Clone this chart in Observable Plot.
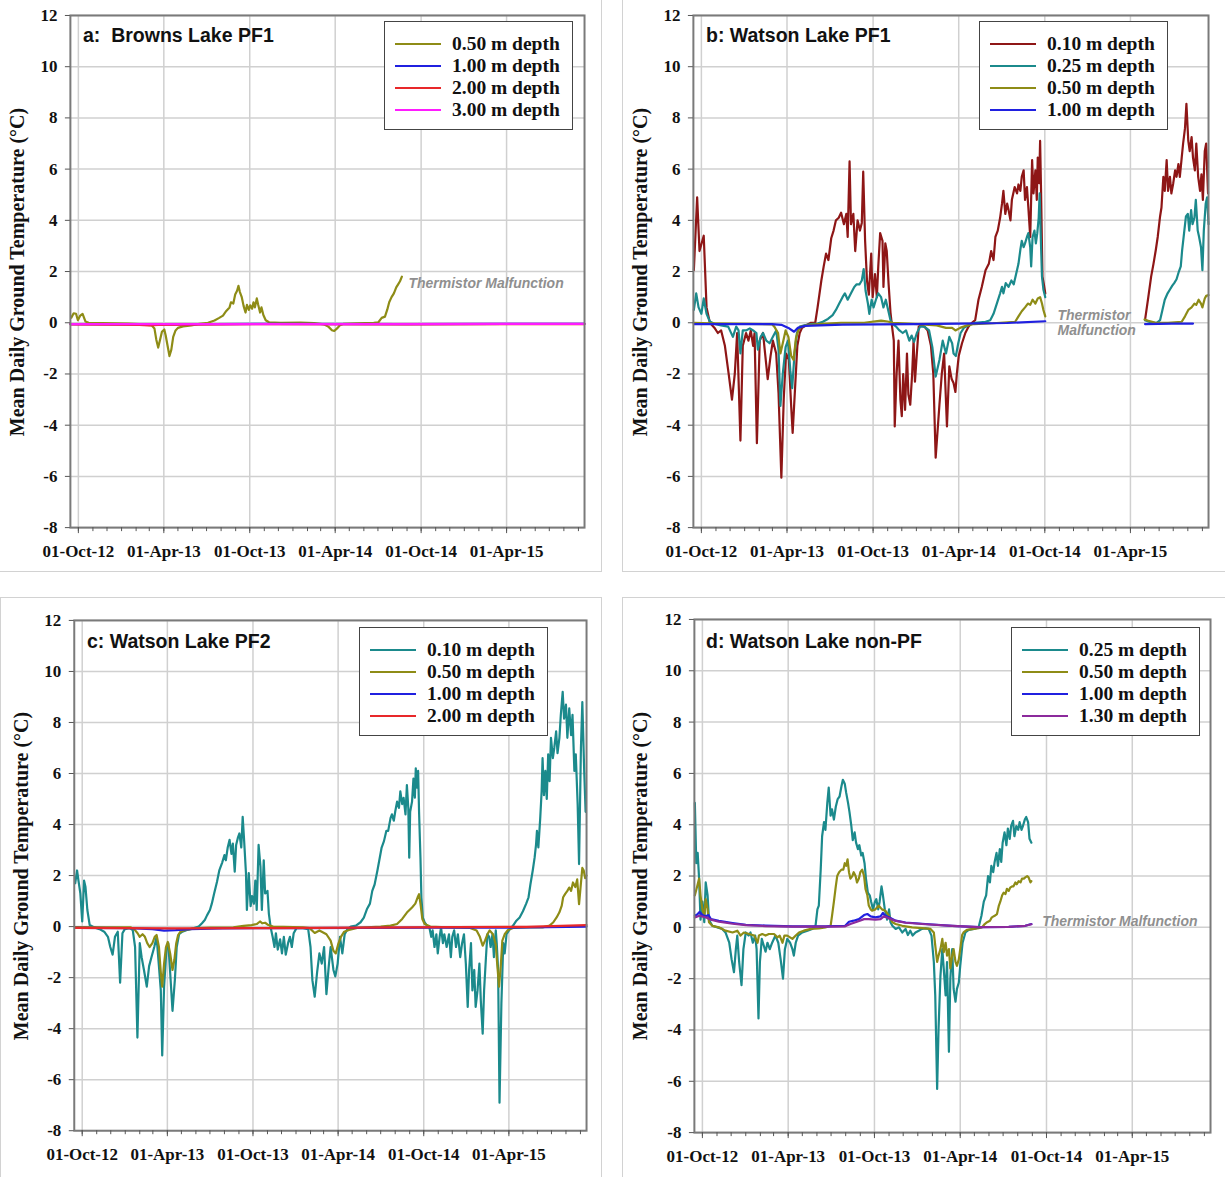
<!DOCTYPE html>
<html>
<head>
<meta charset="utf-8">
<script src="https://cdn.jsdelivr.net/npm/d3@7"></script>
<script src="https://cdn.jsdelivr.net/npm/@observablehq/plot@0.6"></script>
<style>
  body { margin: 0; background: #fff; }
  #root { position: relative; width: 1225px; height: 1177px; overflow: hidden; background: #fff; }
  .panel { position: absolute; box-sizing: border-box; border: 0 solid #d2d2d2; }
  .panel svg { position: absolute; left: 0; top: 0; }
  .ptitle { position: absolute; font-family: "Liberation Sans", Arial, sans-serif; font-weight: bold; font-size: 19.5px; line-height: 20px; white-space: pre; color: #111; }
  .ytitle { position: absolute; font-family: "Liberation Serif", "Times New Roman", serif; font-weight: bold; font-size: 20px; white-space: nowrap; color: #111; transform: translate(-50%, -50%) rotate(-90deg); line-height: 20px; }
  .legend { position: absolute; background: #fff; border: 1.5px solid #444; box-sizing: border-box; }
  .legend .sw { position: absolute; height: 2px; }
  .legend .lb { position: absolute; font-family: "Liberation Serif", "Times New Roman", serif; font-weight: bold; font-size: 19.5px; line-height: 20px; white-space: nowrap; color: #111; transform: translateY(-50%); }
</style>
</head>
<body>
<div id="root"></div>
<script>
// ---------- axis / scale values ----------
const DAY_ZERO = "2012-10-01";          // series x values are days after this date
const xDomain = ["2012-09-14", "2015-09-14"];
const yDomain = [-8, 12];
const yTicks = [-8, -6, -4, -2, 0, 2, 4, 6, 8, 10, 12];
const xTickDates = ["2012-10-01", "2013-04-01", "2013-10-01", "2014-04-01", "2014-10-01", "2015-04-01"];
const xTickLabels = ["01-Oct-12", "01-Apr-13", "01-Oct-13", "01-Apr-14", "01-Oct-14", "01-Apr-15"];
const yTitle = "Mean Daily Ground Temperature (\u00B0C)";
const panelTitles = ["a:  Browns Lake PF1", "b: Watson Lake PF1", "c: Watson Lake PF2", "d: Watson Lake non-PF"];
const annotationText = "Thermistor Malfunction";

// ---------- series values: [day after DAY_ZERO, mean daily temperature] ----------
// a: Browns Lake PF1
const a050 = [[-15,0.2],[-10,0.37],[-5,0.35],[-1,0.1],[4,0.28],[9,0.35],[15,0.05],[22,0],[50,-0.01],[106,-0.03],[142,-0.06],[156,-0.1],[162,-0.22],[166,-0.66],[170,-0.97],[174,-0.66],[178,-0.35],[183,-0.26],[186,-0.5],[190,-0.9],[194,-1.3],[198,-1.05],[202,-0.55],[207,-0.3],[212,-0.2],[223,-0.14],[241,-0.1],[258,-0.04],[276,0],[290,0.09],[300,0.19],[308,0.28],[315,0.46],[322,0.6],[325,0.8],[330,0.75],[334,1.1],[338,1.25],[341,1.44],[344,1.2],[348,1.0],[352,0.65],[356,0.4],[359,0.7],[363,0.5],[366,0.68],[370,0.55],[373,0.8],[376,0.6],[380,0.95],[383,0.7],[387,0.4],[390,0.6],[394,0.3],[399,0.1],[406,0.02],[431,0],[473,0.01],[502,-0.01],[523,-0.06],[533,-0.16],[540,-0.29],[545,-0.32],[551,-0.22],[557,-0.1],[565,-0.04],[593,-0.02],[629,0],[639,0.02],[646,0.19],[653,0.24],[658,0.52],[662,0.8],[667,1.0],[672,1.15],[677,1.38],[681,1.5],[685,1.62],[689,1.8]];
const a100 = [[-17,-0.05],[200,-0.06],[400,-0.04],[700,-0.05],[1078,-0.04]];
const a200 = [[-17,-0.06],[130,-0.08],[150,-0.1],[170,-0.08],[400,-0.05],[700,-0.06],[1078,-0.05]];
const a300 = [[-17,-0.05],[300,-0.05],[600,-0.05],[900,-0.04],[1078,-0.04]];

// b: Watson Lake PF1 (null value = data gap)
const b010 = [[-16,2.05],[-9,4.9],[-4,2.8],[5,3.4],[11,0.6],[18,0],[28,-0.2],[35,-0.4],[42,-0.3],[50,-0.9],[58,-2.0],[65,-3.0],[71,-2.0],[76,-0.4],[83,-4.6],[88,-0.9],[95,-0.4],[100,-0.7],[105,-0.3],[110,-0.9],[113,-0.4],[118,-4.7],[124,-0.7],[131,-0.4],[136,-1.3],[141,-2.2],[147,-1.3],[152,-0.7],[159,-1.2],[164,-2.75],[170,-6.05],[175,-3.0],[180,-1.2],[186,-1.45],[191,-3.3],[194,-4.3],[199,-2.6],[204,-0.9],[209,-0.4],[214,-0.2],[223,-0.1],[233,0],[242,0],[247,0.6],[255,1.65],[260,2.2],[265,2.7],[270,2.45],[276,3.3],[281,3.6],[286,4.0],[292,4.1],[297,4.3],[303,3.85],[308,4.25],[311,3.35],[315,6.3],[318,3.85],[323,4.25],[327,2.8],[332,4.0],[337,3.6],[341,3.9],[344,5.9],[348,3.2],[352,1.65],[356,1.1],[361,2.7],[364,1.0],[369,1.9],[373,1.0],[376,2.2],[380,3.5],[385,3.2],[387,1.4],[391,3.1],[394,2.8],[398,1.5],[402,0.4],[405,-0.1],[409,-0.7],[411,-4.05],[415,-2.0],[419,-0.7],[423,-3.0],[426,-3.65],[429,-2.0],[433,-3.4],[437,-1.2],[440,-2.8],[444,-3.2],[448,-2.0],[451,-0.7],[454,-2.3],[458,-1.2],[462,-0.15],[467,-0.1],[474,-0.15],[481,-0.3],[488,-0.9],[493,-2.0],[498,-5.27],[506,-3.2],[511,-2.0],[516,-1.2],[522,-4.05],[527,-1.7],[532,-2.2],[536,-2.35],[540,-2.7],[543,-2.0],[547,-1.3],[554,-0.8],[561,-0.4],[568,-0.15],[575,0],[582,0.1],[589,0.9],[596,1.4],[604,2.05],[611,2.3],[616,2.8],[621,2.45],[625,3.35],[630,3.6],[635,4.1],[639,4.65],[642,5.15],[646,4.25],[650,4.65],[653,4.4],[657,4.0],[660,4.8],[666,5.3],[671,5.05],[674,5.4],[678,5.15],[681,5.7],[685,5.95],[688,4.8],[692,5.3],[695,4.5],[699,3.35],[703,6.35],[706,5.05],[710,5.95],[713,4.8],[715,6.45],[718,5.45],[720,7.1],[722,5.15],[725,1.8],[728,1.5],[731,1.15],[830,null],[943,0.1],[950,1.0],[956,1.8],[961,2.3],[966,2.85],[970,3.35],[975,4.15],[978,4.5],[982,5.7],[985,5.15],[989,6.35],[992,5.15],[996,5.7],[999,5.05],[1003,5.45],[1007,5.95],[1010,5.7],[1014,6.2],[1017,5.7],[1021,6.45],[1024,7.0],[1028,7.6],[1031,8.55],[1035,7.1],[1038,6.7],[1042,7.25],[1045,6.45],[1049,5.95],[1052,7.0],[1056,5.7],[1060,5.15],[1063,5.8],[1066,4.8],[1070,6.7],[1073,7.0],[1077,5.05]];
const b025 = [[-16,0.5],[-11,1.15],[-6,0.6],[0,0.35],[5,0.95],[11,0.35],[18,0.05],[28,-0.05],[42,-0.1],[57,-0.15],[67,-0.55],[74,-0.15],[79,-0.3],[83,-1.2],[88,-0.3],[95,-0.3],[103,-0.22],[110,-0.3],[117,-0.4],[120,-1.05],[126,-0.55],[131,-0.4],[138,-0.7],[145,-0.8],[152,-0.55],[159,-0.3],[164,-1.05],[168,-3.25],[173,-2.0],[179,-0.95],[184,-0.7],[189,-1.85],[193,-2.55],[198,-1.2],[203,-0.4],[209,-0.15],[219,-0.1],[233,-0.05],[247,-0.03],[258,0.04],[269,0.15],[279,0.3],[286,0.5],[293,0.75],[300,1.0],[305,1.15],[311,0.9],[318,1.15],[325,1.4],[330,1.5],[336,1.5],[341,1.65],[345,2.1],[349,1.25],[354,0.75],[357,0.35],[362,0.9],[366,0.6],[371,0.9],[376,1.15],[382,1.0],[387,0.6],[392,0.9],[397,0.5],[402,0.1],[407,-0.05],[414,-0.15],[421,-0.3],[428,-0.4],[435,-0.3],[442,-0.7],[447,-0.5],[452,-0.75],[458,-0.4],[465,-0.15],[474,-0.15],[484,-0.3],[491,-0.95],[498,-2.1],[506,-1.45],[513,-0.7],[520,-1.2],[527,-0.55],[533,-0.8],[536,-1.2],[541,-1.3],[546,-0.8],[551,-0.4],[558,-0.2],[568,-0.1],[582,0],[604,0.04],[614,0.1],[621,0.35],[628,0.75],[635,1.15],[639,1.4],[642,1.15],[647,1.55],[653,1.4],[659,1.65],[664,1.5],[669,1.9],[674,2.3],[678,2.85],[681,3.2],[685,2.95],[688,3.1],[692,3.35],[695,3.5],[699,2.95],[701,2.2],[704,3.35],[708,3.6],[711,3.1],[714,3.5],[717,4.1],[719,5.05],[721,3.6],[724,1.8],[727,1.3],[731,1.0],[830,null],[943,0.1],[950,0.05],[957,0],[968,0],[975,0.1],[980,0.5],[985,0.9],[991,1.15],[996,1.3],[1001,1.45],[1005,1.55],[1010,1.7],[1015,2.0],[1019,2.2],[1022,2.85],[1026,3.5],[1030,4.15],[1034,4.25],[1037,3.6],[1041,4.4],[1044,3.85],[1048,4.1],[1051,4.8],[1055,3.6],[1058,3.35],[1062,2.95],[1065,2.05],[1068,3.6],[1072,4.65],[1075,4.9],[1078,3.85]];
const b050 = [[-16,0.0],[20,-0.02],[100,-0.04],[150,-0.06],[155,-0.15],[163,-0.4],[168,-1.2],[173,-0.8],[179,-0.3],[185,-0.55],[191,-1.3],[196,-1.45],[201,-0.6],[206,-0.3],[212,-0.15],[223,-0.1],[247,-0.05],[297,0],[346,0],[382,0.08],[396,0.05],[407,0],[460,-0.05],[500,-0.1],[520,-0.2],[533,-0.2],[540,-0.3],[550,-0.2],[565,-0.1],[580,-0.05],[620,-0.02],[667,0.04],[674,0.25],[681,0.45],[688,0.6],[694,0.75],[699,0.7],[704,0.9],[710,0.75],[715,0.95],[720,1.0],[724,0.75],[727,0.5],[731,0.25],[830,null],[942,0.13],[950,0.08],[964,0.01],[992,0],[1021,0.04],[1028,0.25],[1035,0.5],[1042,0.6],[1048,0.75],[1052,0.7],[1057,0.9],[1062,0.75],[1065,0.6],[1070,0.95],[1073,1.05],[1078,1.08]];
const b100 = [[-16,-0.05],[150,-0.05],[170,-0.08],[185,-0.2],[197,-0.35],[205,-0.2],[220,-0.12],[300,-0.07],[450,-0.05],[550,-0.03],[650,-0.01],[731,0.06],[830,null],[943,-0.05],[1000,-0.03],[1045,-0.03]];

// c: Watson Lake PF2
const c010 = [[-15,1.7],[-11,2.2],[-8,1.8],[-4,1.3],[0,0.2],[4,1.8],[7,1.55],[11,0.65],[16,0.06],[26,-0.03],[37,-0.1],[47,-0.2],[55,-0.4],[60,-0.8],[65,-1.1],[70,-0.4],[76,-0.2],[81,-2.2],[86,-0.26],[91,-0.1],[101,-0.06],[108,-0.13],[113,-0.8],[118,-4.35],[123,-0.65],[127,-1.2],[132,-1.7],[138,-2.35],[143,-1.55],[148,-1.2],[154,-0.8],[159,-0.4],[164,-1.55],[168,-2.5],[171,-5.05],[175,-2.35],[180,-0.9],[184,-0.65],[188,-1.8],[193,-3.3],[198,-2.1],[202,-0.8],[207,-0.3],[214,-0.2],[224,-0.13],[239,-0.06],[249,0],[256,0.13],[262,0.26],[267,0.45],[273,0.65],[277,0.9],[282,1.3],[288,1.75],[293,2.2],[299,2.5],[304,2.8],[307,2.6],[311,3.1],[315,3.4],[319,2.85],[322,3.25],[326,2.15],[329,3.2],[333,3.5],[336,3.65],[340,3.1],[343,4.3],[346,3.4],[350,2.1],[352,0.65],[356,2.1],[360,0.8],[363,1.2],[367,0.9],[370,1.8],[373,0.65],[377,3.2],[381,2.35],[384,0.65],[388,2.6],[391,1.3],[396,1.4],[399,0.5],[403,-0.05],[407,-0.4],[411,-0.8],[414,-0.26],[418,-0.9],[423,-0.5],[427,-1.05],[431,-0.4],[435,-1.1],[440,-0.65],[444,-0.4],[448,-0.8],[452,-0.26],[458,-0.06],[472,-0.06],[483,-0.1],[488,-0.8],[492,-2.1],[497,-2.75],[502,-1.8],[507,-1.05],[512,-1.45],[517,-0.8],[522,-2.65],[527,-1.55],[531,-0.8],[537,-1.7],[541,-1.95],[546,-1.45],[551,-0.4],[556,-1.05],[561,-0.3],[567,-0.1],[574,0],[585,0.04],[595,0.17],[602,0.35],[609,0.7],[615,0.9],[620,1.4],[625,1.65],[631,2.2],[636,2.7],[640,3.1],[645,3.35],[650,3.75],[654,3.75],[659,4.25],[662,4.4],[666,4.15],[669,4.5],[673,4.9],[677,4.65],[680,5.3],[684,4.8],[687,5.05],[691,4.4],[694,5.55],[697,4.65],[699,2.7],[701,4.5],[705,4.9],[708,5.8],[711,5.05],[713,6.2],[715,5.45],[718,6.1],[720,4.5],[723,2.7],[725,1.15],[728,0.35],[732,0.17],[737,0.04],[742,-0.03],[746,-0.4],[749,-0.15],[753,-0.8],[757,-0.3],[760,-1.05],[764,-0.4],[767,-0.03],[771,-0.65],[774,-0.3],[779,-0.8],[784,-0.3],[788,-1.2],[791,-0.4],[795,-0.15],[799,-0.8],[803,-0.3],[808,-1.2],[812,-0.65],[816,-0.3],[820,-1.45],[824,-3.15],[827,-1.7],[831,-0.65],[834,-2.5],[838,-1.7],[841,-3.15],[845,-2.5],[849,-1.45],[852,-2.9],[856,-4.2],[859,-2.5],[863,-1.2],[866,-0.3],[870,-0.4],[873,-0.8],[877,-0.3],[880,-1.2],[884,-0.15],[886,-0.65],[889,-1.7],[892,-6.9],[896,-3.0],[900,-0.65],[903,-1.05],[907,-0.3],[914,-0.1],[921,0.04],[928,0.23],[935,0.36],[942,0.6],[949,0.9],[954,1.15],[958,1.65],[963,2.2],[967,2.7],[970,3.2],[972,3.75],[975,3.1],[979,4.25],[982,5.3],[984,6.6],[987,5.15],[990,6.1],[993,5.0],[996,6.75],[999,5.7],[1002,7.4],[1006,6.6],[1009,7.0],[1013,7.65],[1016,6.8],[1020,7.4],[1023,8.3],[1027,9.2],[1030,8.15],[1034,8.7],[1037,7.4],[1041,8.55],[1045,7.5],[1048,8.3],[1052,6.1],[1055,6.75],[1059,4.8],[1062,2.45],[1066,7.0],[1069,8.8],[1073,6.1],[1076,4.5]];
const c050 = [[-15,-0.02],[50,-0.03],[104,-0.03],[111,-0.1],[118,-0.25],[123,-0.4],[129,-0.3],[134,-0.4],[139,-0.65],[144,-0.8],[150,-0.65],[155,-0.4],[159,-0.33],[164,-0.8],[168,-1.8],[171,-2.35],[175,-1.45],[179,-0.8],[183,-0.6],[188,-1.05],[193,-1.7],[197,-1.3],[201,-0.65],[205,-0.33],[210,-0.2],[221,-0.13],[246,-0.06],[274,-0.04],[323,-0.03],[345,0.03],[362,0.06],[373,0.1],[380,0.2],[385,0.13],[391,0.15],[398,0.06],[408,0],[472,-0.03],[486,-0.06],[497,-0.25],[507,-0.15],[522,-0.3],[531,-0.55],[537,-0.95],[542,-1.05],[547,-0.7],[553,-0.4],[560,-0.2],[570,-0.13],[588,-0.05],[638,0],[659,0.04],[673,0.1],[684,0.3],[694,0.55],[705,0.75],[712,0.9],[717,1.15],[720,1.27],[723,0.9],[727,0.3],[732,0.1],[744,0],[779,-0.03],[829,-0.05],[843,-0.15],[850,-0.4],[856,-0.75],[861,-0.55],[866,-0.3],[871,-0.15],[878,-0.3],[884,-0.7],[887,-1.45],[891,-2.35],[895,-1.45],[898,-0.55],[903,-0.3],[910,-0.13],[921,-0.05],[956,-0.03],[984,-0.03],[999,0.04],[1007,0.17],[1014,0.36],[1020,0.56],[1025,0.82],[1028,1.15],[1032,1.27],[1037,1.4],[1041,1.53],[1045,1.4],[1049,1.73],[1054,1.55],[1058,1.85],[1062,0.88],[1066,1.7],[1069,2.3],[1072,2.2],[1075,1.9],[1078,2.0]];
const c100 = [[-15,-0.05],[100,-0.06],[150,-0.1],[175,-0.16],[200,-0.14],[230,-0.1],[300,-0.07],[450,-0.06],[600,-0.05],[750,-0.04],[900,-0.04],[1078,0.0]];
const c200 = [[-15,-0.05],[200,-0.07],[400,-0.06],[600,-0.04],[800,-0.02],[950,-0.01],[1078,0.06]];

// d: Watson Lake non-PF
const d025 = [[-16,4.85],[-13,2.5],[-10,2.9],[-7,1.9],[-4,0.3],[0,1.0],[4,0.2],[7,1.75],[11,1.25],[14,0.3],[21,0.06],[32,0],[42,-0.06],[49,-0.2],[57,-0.6],[62,-1.25],[67,-1.75],[71,-0.85],[74,-0.32],[78,-1.35],[83,-2.25],[87,-0.85],[92,-0.2],[98,-0.32],[102,-0.2],[107,-0.6],[112,-0.32],[115,-0.85],[119,-3.55],[122,-1.35],[126,-0.45],[130,-0.7],[134,-0.95],[138,-0.6],[143,-0.85],[148,-0.6],[155,-0.32],[161,-0.6],[166,-1.25],[171,-2.0],[175,-0.85],[180,-0.45],[186,-0.6],[191,-0.85],[194,-1.1],[198,-0.6],[203,-0.32],[212,-0.2],[223,-0.13],[233,-0.06],[240,0.06],[244,0.7],[247,0.85],[251,2.25],[254,3.55],[258,4.1],[261,3.8],[265,4.85],[268,5.45],[272,4.35],[275,4.6],[279,4.2],[283,4.7],[287,5.0],[291,5.1],[295,5.5],[298,5.75],[302,5.6],[305,5.25],[309,4.85],[312,4.5],[316,3.95],[319,3.4],[323,3.7],[326,3.3],[330,3.05],[333,3.2],[337,2.8],[340,2.9],[344,2.5],[347,1.9],[351,1.35],[355,1.25],[358,1.0],[362,0.7],[366,1.0],[369,1.1],[373,0.7],[376,1.0],[380,1.6],[383,1.25],[387,0.7],[392,0.3],[396,0.7],[399,0.2],[403,0.06],[410,-0.06],[417,0],[424,-0.2],[431,-0.06],[436,-0.3],[441,-0.13],[446,-0.32],[452,-0.2],[459,-0.13],[466,-0.06],[473,-0.04],[480,-0.06],[486,-0.32],[491,-1.35],[494,-2.65],[498,-6.3],[501,-3.95],[505,-1.9],[509,-0.85],[512,-1.6],[516,-2.65],[519,-1.35],[523,-4.85],[526,-2.0],[530,-0.85],[533,-2.4],[537,-2.9],[540,-2.4],[544,-2.15],[547,-1.5],[552,-0.6],[558,-0.2],[565,-0.1],[576,-0.06],[586,0],[592,0.45],[597,1.0],[602,1.25],[606,2.0],[610,1.75],[613,2.4],[617,2.15],[620,2.55],[624,2.9],[627,2.4],[631,3.05],[634,2.55],[637,3.3],[641,3.7],[645,3.2],[648,3.85],[652,3.45],[655,3.95],[659,4.15],[662,3.55],[666,3.95],[670,3.8],[673,4.1],[677,3.8],[680,3.95],[684,4.2],[687,4.3],[691,4.1],[694,3.45],[698,3.3]];
const d050 = [[-16,1.25],[-11,1.6],[-7,1.9],[-4,1.25],[0,0.7],[4,0.45],[7,1.1],[11,0.7],[14,0.2],[21,0.06],[35,0],[49,-0.13],[64,-0.2],[74,-0.13],[81,-0.32],[88,-0.2],[99,-0.26],[110,-0.32],[117,-0.6],[120,-0.32],[127,-0.26],[134,-0.32],[141,-0.26],[152,-0.26],[159,-0.39],[164,-0.32],[170,-0.6],[174,-0.32],[180,-0.32],[186,-0.39],[191,-0.45],[198,-0.32],[205,-0.2],[215,-0.13],[230,-0.06],[247,-0.04],[261,0],[272,0.06],[275,0.45],[279,1.0],[283,1.6],[286,2.0],[290,2.15],[295,2.25],[299,2.25],[302,2.5],[305,2.4],[308,2.65],[311,2.15],[314,1.9],[318,2.0],[321,2.15],[325,2.0],[328,1.75],[332,1.9],[335,2.15],[339,2.25],[343,2.0],[346,1.5],[350,1.25],[353,0.85],[357,0.7],[360,0.65],[367,0.7],[374,0.85],[381,0.7],[388,0.65],[396,0.45],[403,0.2],[410,0.13],[424,0.06],[445,0],[466,-0.03],[484,-0.06],[491,-0.2],[494,-0.7],[498,-1.35],[501,-1.1],[505,-0.85],[509,-0.45],[512,-0.97],[516,-0.6],[519,-1.1],[523,-0.85],[526,-1.6],[530,-1.1],[533,-0.85],[537,-1.35],[540,-1.5],[544,-1.25],[547,-0.85],[551,-0.3],[554,-0.2],[561,-0.1],[576,-0.06],[586,-0.03],[593,0],[599,0.13],[604,0.2],[610,0.26],[614,0.39],[620,0.45],[625,0.52],[629,0.85],[632,1.0],[636,1.25],[639,1.35],[643,1.3],[646,1.5],[650,1.42],[653,1.55],[657,1.6],[660,1.6],[664,1.75],[667,1.68],[671,1.8],[675,1.75],[678,1.9],[682,1.9],[685,1.95],[689,2.0],[692,1.95],[696,1.75],[698,1.8]];
const d100 = [[-16,0.45],[-11,0.5],[-6,0.6],[0,0.48],[7,0.43],[13,0.48],[18,0.32],[35,0.25],[64,0.17],[92,0.1],[134,0.07],[191,0.04],[261,0.04],[303,0.06],[311,0.22],[321,0.26],[332,0.32],[343,0.48],[350,0.52],[357,0.43],[367,0.39],[378,0.43],[383,0.56],[388,0.45],[396,0.39],[410,0.26],[431,0.19],[473,0.13],[530,0.06],[586,0.01],[650,0.02],[685,0.06],[698,0.13]];
const d130 = [[-16,0.39],[-6,0.45],[7,0.39],[18,0.3],[35,0.22],[64,0.14],[92,0.09],[134,0.05],[191,0.03],[261,0.03],[303,0.04],[314,0.13],[328,0.22],[343,0.32],[353,0.32],[367,0.3],[378,0.32],[385,0.43],[396,0.35],[410,0.25],[431,0.18],[473,0.12],[530,0.06],[586,0.01],[650,0.02],[685,0.06],[698,0.12]];

// annotation anchors: [day after DAY_ZERO, temperature]
const annotA = [703, 1.55];
const annotB = [757, 0.0];
const annotD = [721, 0.25];

// ---------- legends ----------
const legendA = ["0.50 m depth", "1.00 m depth", "2.00 m depth", "3.00 m depth"];
const legendB = ["0.10 m depth", "0.25 m depth", "0.50 m depth", "1.00 m depth"];
const legendC = ["0.10 m depth", "0.50 m depth", "1.00 m depth", "2.00 m depth"];
const legendD = ["0.25 m depth", "0.50 m depth", "1.00 m depth", "1.30 m depth"];

// ---------- colours ----------
const C = {
  darkred: "#8e1616", teal: "#1b8a8c", olive: "#8e8c16", blue: "#2020e0",
  red: "#e8282a", magenta: "#ff1cff", purple: "#8c2a9c"
};

// ---------- helpers ----------
const base = new Date(DAY_ZERO + "T00:00:00Z").getTime();
const toDate = d => new Date(base + d * 86400000);
const rows = arr => arr.map(([d, v]) => ({date: toDate(d), value: v}));
const parse = s => new Date(s + "T00:00:00Z");
const majorDates = xTickDates.map(parse);
const labelByTime = new Map(majorDates.map((d, i) => [d.getTime(), xTickLabels[i]]));
const minorDates = d3.utcMonth.range(parse(xDomain[0]), parse(xDomain[1]));

const SERIF = "'Liberation Serif', 'Times New Roman', serif";
const SANS = "'Liberation Sans', Arial, sans-serif";

const panels = [
  { left: 0, top: 0, w: 602, h: 572, m: [15, 17, 44, 70], borders: "border-right-width:1px;border-bottom-width:1px;",
    title: panelTitles[0], titlePos: [83, 25], ytitleX: 17,
    series: [[a050, C.olive], [a100, C.blue], [a200, C.red], [a300, C.magenta]],
    legend: legendA, legendColors: [C.olive, C.blue, C.red, C.magenta], legendPos: [384, 21],
    annot: [annotA, annotationText] },
  { left: 622, top: 0, w: 603, h: 572, m: [15, 17, 44, 70], borders: "border-left-width:1px;border-bottom-width:1px;",
    title: panelTitles[1], titlePos: [83, 25], ytitleX: 17,
    series: [[b010, C.darkred], [b025, C.teal], [b050, C.olive], [b100, C.blue]],
    legend: legendB, legendColors: [C.darkred, C.teal, C.olive, C.blue], legendPos: [356, 21],
    annot: [annotB, "Thermistor\nMalfunction"] },
  { left: 0, top: 597, w: 602, h: 580, m: [22, 15, 46, 73], borders: "border-top-width:1px;border-right-width:1px;border-left-width:1px;",
    title: panelTitles[2], titlePos: [86, 33], ytitleX: 20,
    series: [[c010, C.teal], [c050, C.olive], [c100, C.blue], [c200, C.red]],
    legend: legendC, legendColors: [C.teal, C.olive, C.blue, C.red], legendPos: [358, 29],
    annot: null },
  { left: 622, top: 597, w: 603, h: 580, m: [21, 15, 45, 71], borders: "border-top-width:1px;border-left-width:1px;",
    title: panelTitles[3], titlePos: [83, 33], ytitleX: 17,
    series: [[d025, C.teal], [d050, C.olive], [d100, C.blue], [d130, C.purple]],
    legend: legendD, legendColors: [C.teal, C.olive, C.blue, C.purple], legendPos: [388, 29],
    annot: [annotD, annotationText] }
];

const root = document.getElementById("root");

for (const p of panels) {
  const div = document.createElement("div");
  div.className = "panel";
  div.style.cssText = `left:${p.left}px;top:${p.top}px;width:${p.w}px;height:${p.h}px;` + p.borders;
  root.appendChild(div);

  const [mt, mr, mb, ml] = p.m;
  const marks = [
    Plot.gridY(yTicks, {stroke: "#d0d0d0", strokeOpacity: 1, strokeWidth: 1.5}),
    Plot.gridX(majorDates, {stroke: "#d0d0d0", strokeOpacity: 1, strokeWidth: 1.5}),
    ...p.series.map(([s, col]) => Plot.line(rows(s), {x: "date", y: "value", stroke: col, strokeWidth: 2.2, curve: "linear"})),
    Plot.frame({stroke: "#7a7a7a", strokeWidth: 2}),
    Plot.axisY(yTicks, {tickSize: 5, tickPadding: 8, stroke: "#555", fontSize: 17, fontWeight: "bold", fontFamily: SERIF, fill: "#111",
      tickFormat: d => String(d), label: null}),
    Plot.axisX(minorDates, {tickSize: 4, stroke: "#555", tickFormat: () => "", label: null}),
    Plot.axisX(majorDates, {tickSize: 6, tickPadding: 11, stroke: "#555", fontSize: 17, fontWeight: "bold", fontFamily: SERIF, fill: "#111",
      tickFormat: d => labelByTime.get(d.getTime()), label: null})
  ];
  if (p.annot) {
    const [[ad, av], txt] = p.annot;
    marks.push(Plot.text([{date: toDate(ad), value: av, t: txt}], {
      x: "date", y: "value", text: "t", textAnchor: "start", lineAnchor: "middle", lineHeight: 1.1,
      fontFamily: SANS, fontWeight: "bold", fontStyle: "italic", fontSize: 14, fill: "#8f8f8f"
    }));
  }
  const svg = Plot.plot({
    width: p.w, height: p.h,
    marginTop: mt, marginRight: mr, marginBottom: mb, marginLeft: ml,
    x: {type: "utc", domain: xDomain.map(parse)},
    y: {domain: yDomain},
    style: {background: "transparent", fontFamily: SERIF, color: "#111", overflow: "visible"},
    marks
  });
  div.appendChild(svg);

  // title
  const t = document.createElement("div");
  t.className = "ptitle";
  t.style.left = p.titlePos[0] + "px";
  t.style.top = p.titlePos[1] + "px";
  t.textContent = p.title;
  div.appendChild(t);

  // y-axis title, centred on the frame
  const yt = document.createElement("div");
  yt.className = "ytitle";
  yt.style.left = p.ytitleX + "px";
  yt.style.top = (mt + (p.h - mt - mb) / 2) + "px";
  yt.textContent = yTitle;
  div.appendChild(yt);

  // legend
  const lg = document.createElement("div");
  lg.className = "legend";
  lg.style.cssText = `left:${p.legendPos[0]}px;top:${p.legendPos[1]}px;width:189px;height:109px;`;
  p.legend.forEach((lab, i) => {
    const cy = 21.5 + i * 22.3;
    const sw = document.createElement("div");
    sw.className = "sw";
    sw.style.cssText = `left:10px;width:46px;top:${Math.round(cy - 1)}px;background:${p.legendColors[i]};`;
    const lb = document.createElement("div");
    lb.className = "lb";
    lb.style.cssText = `left:67px;top:${cy}px;`;
    lb.textContent = lab;
    lg.appendChild(sw);
    lg.appendChild(lb);
  });
  div.appendChild(lg);
}
</script>
</body>
</html>
